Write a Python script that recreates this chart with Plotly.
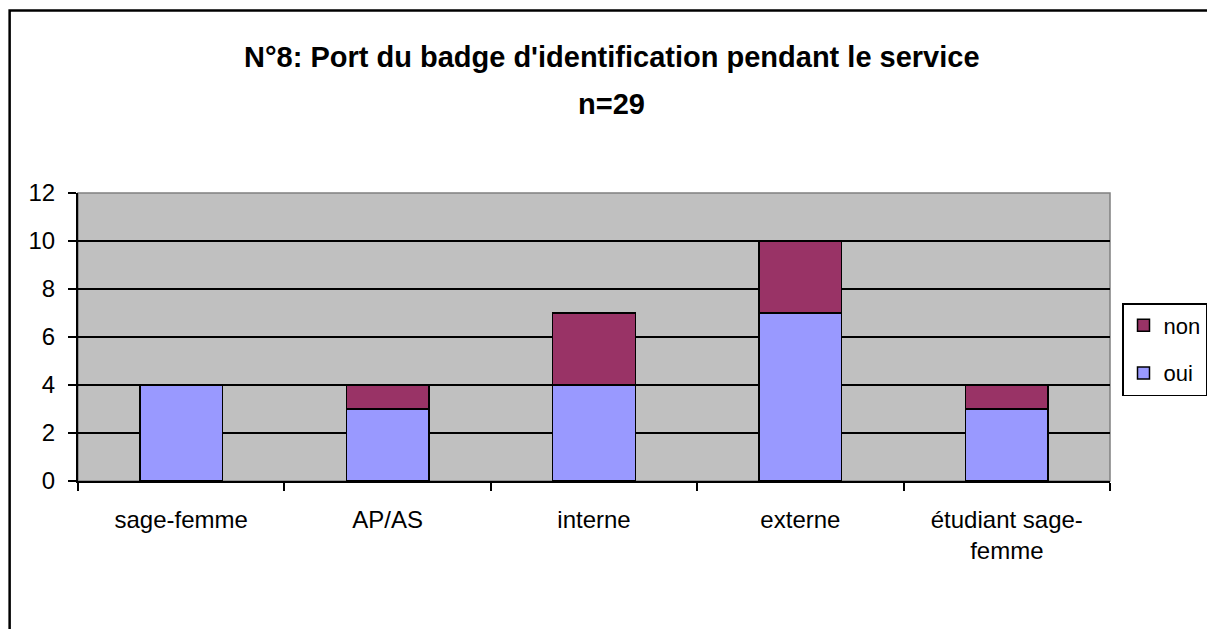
import plotly.graph_objects as go

categories = ["sage-femme", "AP/AS", "interne", "externe", "étudiant sage-<br>femme"]
oui = [4, 3, 4, 7, 3]
non = [0, 1, 3, 3, 1]
title_line1 = "N°8: Port du badge d'identification pendant le service"
title_line2 = "n=29"

W, H = 1207, 629
L, R, T, B = 78, 1112, 193, 481
pw, ph = R - L, B - T

def px(x):
    return (x - L) / pw

def py(y):
    return (B - y) / ph

fig = go.Figure()
fig.add_bar(x=categories, y=oui, name="oui", legendrank=2, legendgroup="g2",
            marker=dict(color="#9999FF", line=dict(color="black", width=1.5)))
fig.add_bar(x=categories, y=non, name="non", legendrank=1, legendgroup="g1",
            marker=dict(color="#993366", line=dict(color="black", width=1.5)))

font_family = "Liberation Sans, Arial, sans-serif"
fig.update_layout(
    width=W, height=H,
    barmode="stack",
    bargap=0.6,
    plot_bgcolor="#C0C0C0",
    paper_bgcolor="white",
    margin=dict(l=L, r=W - R, t=T, b=H - B, pad=0),
    font=dict(family=font_family, size=24, color="black"),
    showlegend=True,
    legend=dict(
        traceorder="grouped",
        xref="container", yref="container",
        x=1122 / W, y=1 - 303 / H, xanchor="left", yanchor="top",
        bordercolor="black", borderwidth=1.5, bgcolor="white",
        font=dict(size=22), itemwidth=30, tracegroupgap=16,
    ),
    xaxis=dict(
        type="category",
        showgrid=False, ticks="outside", tickson="boundaries", ticklen=8,
        tickcolor="black", tickwidth=1.5,
        showline=True, linecolor="black", linewidth=2, mirror=False,
        tickfont=dict(size=24), ticklabelstandoff=16,
    ),
    yaxis=dict(
        range=[0, 12], dtick=2, tick0=0,
        showgrid=True, gridcolor="black", gridwidth=1.8,
        ticks="outside", ticklen=8, tickcolor="black", tickwidth=1.5,
        showline=True, linecolor="black", linewidth=2,
        tickfont=dict(size=24), zeroline=False, ticklabelstandoff=8,
    ),
    annotations=[
        dict(text="<b>" + title_line1 + "</b>", x=px(613), y=py(57), xref="paper", yref="paper",
             showarrow=False, font=dict(size=29, family=font_family), xanchor="center", yanchor="middle"),
        dict(text="<b>" + title_line2 + "</b>", x=px(613), y=py(104), xref="paper", yref="paper",
             showarrow=False, font=dict(size=29, family=font_family), xanchor="center", yanchor="middle"),
    ],
    shapes=[
        dict(type="rect", xref="paper", yref="paper", x0=0, x1=1, y0=0, y1=1,
             line=dict(color="#808080", width=1.5), layer="below", fillcolor="rgba(0,0,0,0)"),
        dict(type="rect", xref="paper", yref="paper", x0=px(9.5), x1=px(W + 20), y0=py(H + 20), y1=py(10.5),
             line=dict(color="black", width=2.5), fillcolor="rgba(0,0,0,0)"),
    ],
)

fig.write_html("out.html", config={"displayModeBar": False},
               post_script="document.body.style.margin='0';")
